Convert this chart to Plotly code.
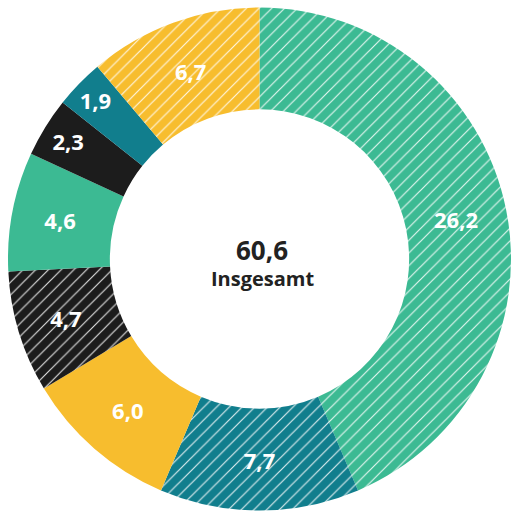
import plotly.graph_objects as go

values = [26.2, 7.7, 6.0, 4.7, 4.6, 2.3, 1.9, 6.7]
labels = ["A", "B", "C", "D", "E", "F", "G", "H"]
colors = ["#3cba93", "#117e8d", "#f7bd2e", "#1c1c1c", "#3cba93", "#1c1c1c", "#117e8d", "#f7bd2e"]
hatched = [True, True, False, True, False, False, False, True]
total_label = "60,6"
center_caption = "Insgesamt"

text_labels = [f"{v:.1f}".replace(".", ",") for v in values]

W, H = 511, 513
cx, cy, r = 262, 259, 254  # pixel placement of the donut

fig = go.Figure(go.Pie(
    labels=labels,
    values=values,
    text=text_labels,
    textinfo="text",
    textposition="inside",
    insidetextorientation="horizontal",
    sort=False,
    direction="clockwise",
    rotation=0,
    hole=0.595,
    hoverinfo="skip",
    marker=dict(
        colors=colors,
        line=dict(width=0),
        pattern=dict(
            shape=["/" if h else "" for h in hatched],
            fgcolor="rgba(255,255,255,0.85)",
            bgcolor=colors,
            size=9,
            solidity=0.13,
            fillmode="replace",
        ),
    ),
    textfont=dict(family="Open Sans", size=22, color="white", weight="bold"),
    domain=dict(x=[max(0, (cx - r) / W), min(1, (cx + r) / W)],
                y=[max(0, (H - cy - r) / H), min(1, (H - cy + r) / H)]),
    showlegend=False,
))

fig.add_annotation(x=cx / W, y=1 - 250 / H, xref="paper", yref="paper",
                   text=f"<b>{total_label}</b>", showarrow=False,
                   font=dict(family="Open Sans", size=26, color="#222222"))
fig.add_annotation(x=cx / W, y=1 - 278 / H, xref="paper", yref="paper",
                   text=f"<b>{center_caption}</b>", showarrow=False,
                   font=dict(family="Open Sans", size=20, color="#222222"))

fig.update_layout(width=W, height=H, margin=dict(l=0, r=0, t=0, b=0),
                  paper_bgcolor="white", plot_bgcolor="white",
                  uniformtext=dict(minsize=10, mode=False))

fig.write_html("out.html")
